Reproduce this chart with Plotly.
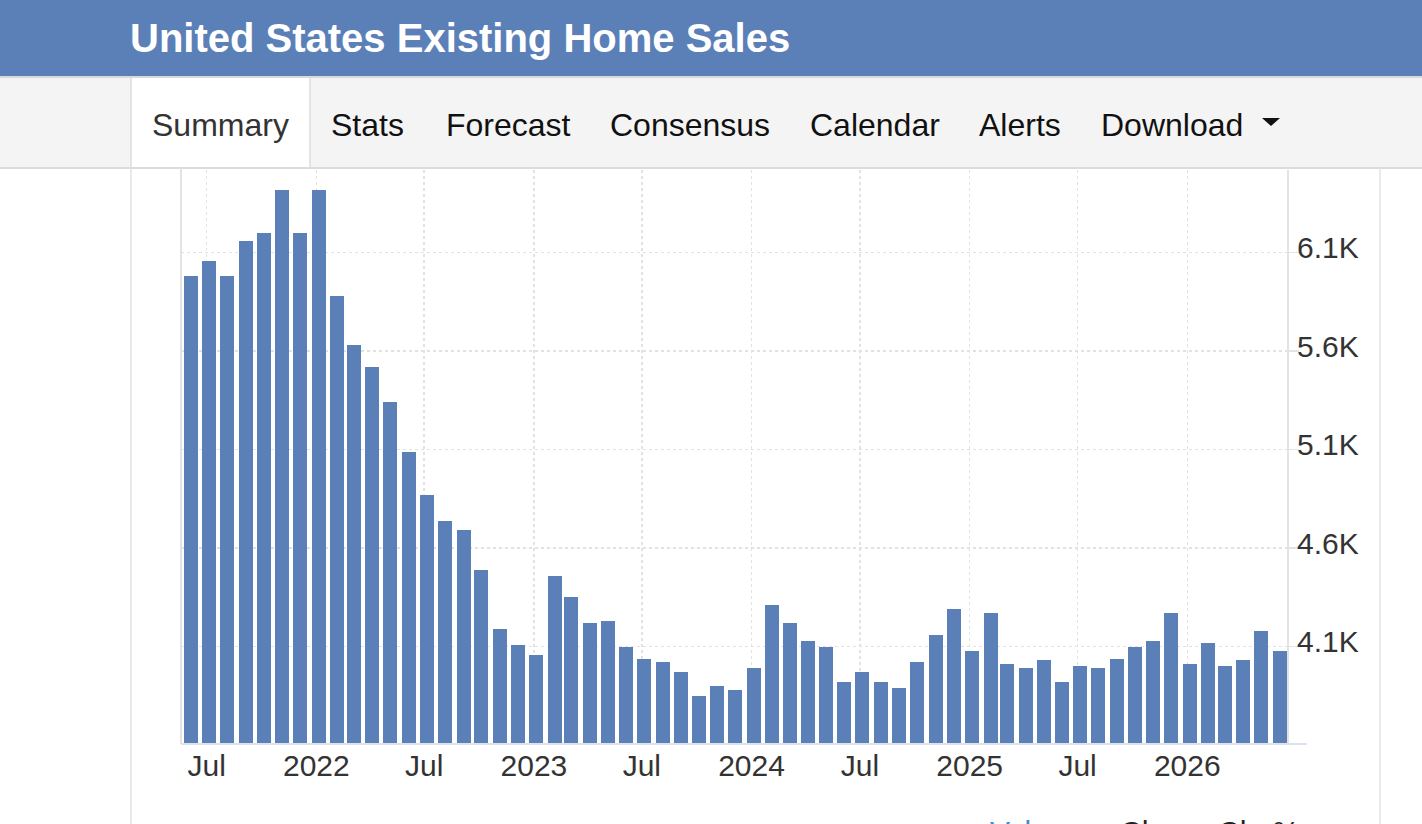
import pandas as pd
import plotly.graph_objects as go

# ---- data ----
months = pd.date_range("2021-06-01", "2026-06-01", freq="MS")
sales = [5980, 6060, 5980, 6160, 6200, 6420, 6200, 6420, 5880, 5630,
         5520, 5340, 5090, 4870, 4740, 4690, 4490, 4190, 4110, 4060,
         4460, 4350, 4220, 4230, 4100, 4040, 4020, 3970, 3850, 3900,
         3880, 3990, 4310, 4220, 4130, 4100, 3920, 3970, 3920, 3890,
         4020, 4160, 4290, 4080, 4270, 4010, 3990, 4030, 3920, 4000,
         3990, 4040, 4100, 4130, 4270, 4010, 4120, 4000, 4030, 4180,
         4080]
x_tick_vals = ["2021-07-01", "2022-01-01", "2022-07-01", "2023-01-01", "2023-07-01",
               "2024-01-01", "2024-07-01", "2025-01-01", "2025-07-01", "2026-01-01"]
x_tick_text = ["Jul", "2022", "Jul", "2023", "Jul", "2024", "Jul", "2025", "Jul", "2026"]
y_tick_vals = [4100, 4600, 5100, 5600, 6100]
y_tick_text = ["4.1K", "4.6K", "5.1K", "5.6K", "6.1K"]
tabs = ["Summary", "Stats", "Forecast", "Consensus", "Calendar", "Alerts", "Download"]
legend_items = ["Values", "Change", "Chg%"]

# ---- style / layout ----
W, H = 1422, 824
L, R, T, B = 181, 1287, 170, 744
BLUE = "#5b80b8"
FONT = "Liberation Sans, Arial, Helvetica, sans-serif"
DAY = 86400000

def px(x):
    return (x - L) / (R - L)

def py(y):
    return (B - y) / (B - T)

fig = go.Figure()
fig.add_trace(go.Bar(
    x=months, y=sales,
    marker=dict(color=BLUE, line=dict(width=0)),
    width=23.5 * DAY, offset=-7.8 * DAY,
    hoverinfo="skip",
))

shapes = []
def rect(x0, y0, x1, y1, color):
    shapes.append(dict(type="rect", xref="paper", yref="paper",
                       x0=px(x0), x1=px(x1), y0=py(y0), y1=py(y1),
                       fillcolor=color, line=dict(width=0), layer="below"))

def line(x0, y0, x1, y1, color, w=1.5):
    shapes.append(dict(type="line", xref="paper", yref="paper",
                       x0=px(x0), x1=px(x1), y0=py(y0), y1=py(y1),
                       line=dict(color=color, width=w), layer="above"))

rect(0, 0, W, 76, BLUE)
rect(0, 76, W, 78, "#d9d9d9")
rect(0, 78, W, 168, "#f4f4f4")
rect(131, 78, 310, 168, "#ffffff")
line(131, 78, 131, 168, "#dddddd")
line(310, 78, 310, 168, "#dddddd")
line(0, 168, W, 168, "#dcdcdc", 2)
line(131, 168, 131, H, "#e3e3e3")
line(1380, 168, 1380, H, "#e3e3e3")
line(181, 168, 181, B, "#e3e3e3", 2)
line(181, B, 1307, B, "#dde3ec", 2)
# dropdown caret
shapes.append(dict(type="path", xref="paper", yref="paper",
                   path="M {} {} L {} {} L {} {} Z".format(px(1262), py(118), px(1280), py(118), px(1271), py(126)),
                   fillcolor="#111111", line=dict(width=0)))

annotations = []
def text(x, y, s, size, color, anchor="left", yanchor="middle", bold=False):
    annotations.append(dict(xref="paper", yref="paper", x=px(x), y=py(y),
                            text=("<b>%s</b>" % s) if bold else s, showarrow=False,
                            xanchor=anchor, yanchor=yanchor, borderpad=0,
                            font=dict(family=FONT, size=size, color=color)))

text(129, 38, "United States Existing Home Sales", 40, "#ffffff", bold=True)
tab_x = [151, 330, 445, 609, 809, 978, 1100]
for name, tx in zip(tabs, tab_x):
    text(tx, 125, name, 32, "#333333" if name == "Summary" else "#111111")
leg_x = [989, 1119, 1217]
leg_c = ["#428bca", "#222222", "#222222"]
for name, lx, lc in zip(legend_items, leg_x, leg_c):
    text(lx, 814, name, 30, lc, yanchor="top")

fig.update_layout(
    width=W, height=H,
    margin=dict(l=L, r=W - R, t=T, b=H - B, pad=0),
    paper_bgcolor="#ffffff", plot_bgcolor="#ffffff",
    showlegend=False, bargap=0,
    shapes=shapes, annotations=annotations,
    font=dict(family=FONT, color="#333333"),
    xaxis=dict(
        type="date", range=["2021-05-19", "2026-06-17 07:00"],
        tickmode="array", tickvals=x_tick_vals, ticktext=x_tick_text,
        showgrid=True, gridcolor="#e2e2e2", griddash="dot", gridwidth=1.5,
        showline=False, zeroline=False, ticks="",
        tickfont=dict(family=FONT, size=30, color="#333333"),
        ticklabelstandoff=1,
        fixedrange=True,
    ),
    yaxis=dict(
        side="right", range=[3606, 6520],
        tickmode="array", tickvals=y_tick_vals, ticktext=y_tick_text,
        showgrid=True, gridcolor="#e2e2e2", griddash="dot", gridwidth=1.5,
        showline=True, linecolor="#e3e3e3", linewidth=2, mirror=False,
        zeroline=False, ticks="outside", ticklen=10, tickcolor="#e3e3e3", tickwidth=1.5,
        tickfont=dict(family=FONT, size=30, color="#333333"),
        ticklabelstandoff=-8, ticklabelshift=-5,
        fixedrange=True,
    ),
)

fig.write_html("out.html", config={"displayModeBar": False, "staticPlot": True})
